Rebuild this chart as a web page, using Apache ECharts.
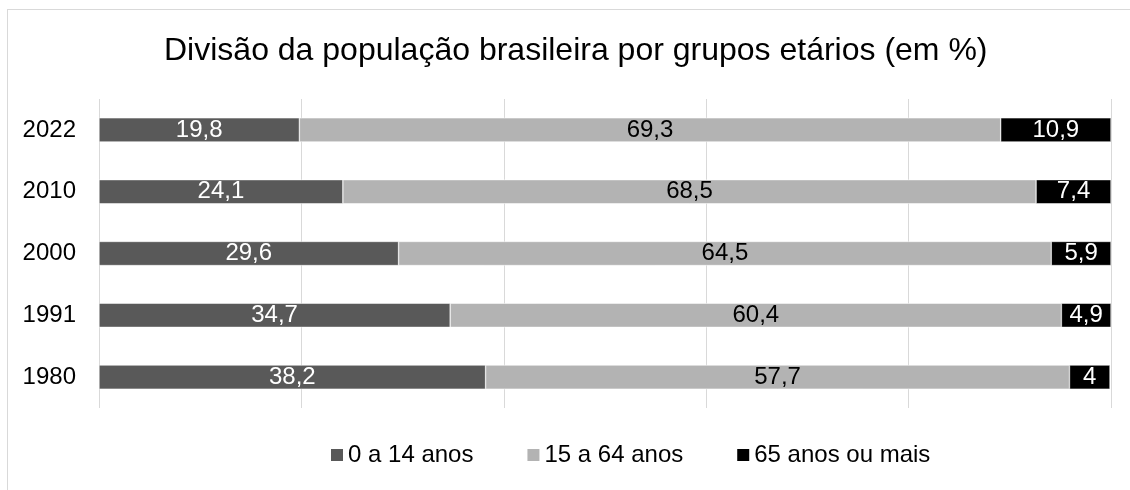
<!DOCTYPE html>
<html><head><meta charset="utf-8">
<script src="https://cdn.jsdelivr.net/npm/echarts@6/dist/echarts.min.js"></script>
<style>
html,body{margin:0;padding:0;background:#fff;}
#frame{position:absolute;left:7px;top:9px;width:1140px;height:500px;border:1px solid #d9d9d9;box-sizing:border-box;}
#c{position:absolute;left:0;top:0;width:1130px;height:490px;}
</style></head>
<body>
<div id="frame"></div>
<div id="c"></div>
<script>
const years = ['1980','1991','2000','2010','2022'];
const seriesNames = ['0 a 14 anos','15 a 64 anos','65 anos ou mais'];
const kids = [38.2, 34.7, 29.6, 24.1, 19.8];
const adults = [57.7, 60.4, 64.5, 68.5, 69.3];
const elderly = [4, 4.9, 5.9, 7.4, 10.9];
const xTicks = [0, 20, 40, 60, 80, 100];

const font = 'Liberation Sans, Arial, sans-serif';
const colors = ['#595959', '#b3b3b3', '#000000'];
const labelColors = ['#ffffff', '#000000', '#ffffff'];
const data = [kids, adults, elderly];

const chart = echarts.init(document.getElementById('c'));
chart.setOption({
  animation: false,
  textStyle: {fontFamily: font},
  title: {
    text: 'Divisão da população brasileira por grupos etários (em %)',
    left: 159, top: 30,
    textStyle: {fontFamily: font, fontSize: 32, fontWeight: 'normal', color: '#000'}
  },
  legend: {
    top: 443, left: 329, padding: 0,
    itemWidth: 14, itemHeight: 14, itemGap: 52,
    icon: 'rect',
    textStyle: {fontFamily: font, fontSize: 24, color: '#000', padding: [0,0,0,-1]},
    data: seriesNames
  },
  grid: {left: 99, right: 19, top: 99, bottom: 82},
  xAxis: {
    type: 'value', min: xTicks[0], max: xTicks[xTicks.length-1], interval: 20,
    axisLabel: {show: false}, axisLine: {show: false}, axisTick: {show: false},
    splitLine: {show: true, lineStyle: {color: '#d9d9d9', width: 1}}
  },
  yAxis: {
    type: 'category', data: years,
    axisLine: {show: false}, axisTick: {show: false},
    axisLabel: {fontFamily: font, fontSize: 24, color: '#000', margin: 23}
  },
  series: seriesNames.map((n, i) => ({
    name: n, type: 'bar', stack: 'total', data: data[i],
    barCategoryGap: '61%',
    itemStyle: {color: colors[i], borderColor: '#ffffff', borderWidth: 0.5},
    label: {
      show: true, position: 'inside', fontFamily: font, fontSize: 24,
      color: labelColors[i],
      formatter: p => String(p.value).replace('.', ',')
    }
  }))
});
</script>
</body></html>
